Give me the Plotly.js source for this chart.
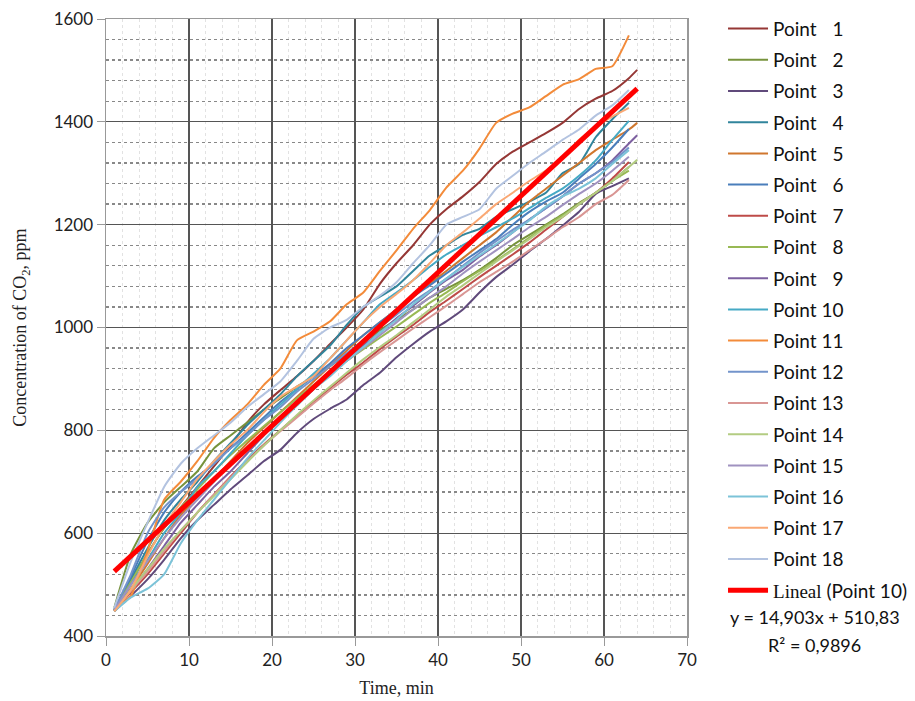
<!DOCTYPE html>
<html>
<head>
<meta charset="utf-8">
<script src="https://cdn.plot.ly/plotly-3.0.1.min.js"></script>
<style>html,body{margin:0;padding:0;background:#fff;}#chart{width:915px;height:701px;}</style>
</head>
<body>
<div id="chart"></div>
<script>
// Time axes (minutes)
const timeA = [1,3,5,7,9,11,13,15,17,19,21,23,25,27,29,31,33,35,37,39,41,43,45,47,49,51,53,55,57,59,61,63];
const timeB = [1,3,5,7,9,11,13,15,17,19,21,23,25,27,29,31,33,35,37,39,41,43,45,47,49,51,53,55,57,59,61,63,64];

// CO2 concentration (ppm) per measuring point
const point1  = [450,505,560,610,650,690,730,770,815,850,878,905,935,968,1000,1035,1085,1125,1160,1200,1230,1255,1283,1318,1342,1360,1378,1398,1425,1445,1460,1485,1501];
const point2  = [455,560,620,660,690,720,765,790,815,840,862,885,905,925,948,970,995,1015,1035,1058,1075,1092,1112,1135,1160,1180,1200,1220,1242,1262,1285,1312];
const point3  = [448,478,510,548,590,625,655,685,712,740,762,795,822,842,860,888,912,942,968,992,1012,1035,1068,1098,1122,1148,1172,1198,1225,1260,1275,1290];
const point4  = [450,510,570,625,665,700,740,775,810,840,870,905,935,965,1005,1040,1060,1080,1110,1140,1160,1180,1192,1215,1230,1245,1262,1300,1318,1370,1405,1437];
const point5  = [448,492,540,590,635,670,705,740,775,805,835,865,895,925,955,985,1010,1035,1060,1085,1110,1135,1160,1185,1215,1245,1270,1295,1320,1345,1365,1385,1398];
const point6  = [450,515,585,640,680,710,735,765,795,825,855,880,905,930,960,985,1010,1035,1060,1082,1105,1128,1150,1172,1200,1225,1245,1262,1290,1318,1350,1386];
const point7  = [450,485,520,560,600,640,675,710,742,772,800,828,855,882,908,932,958,982,1005,1030,1052,1075,1098,1120,1142,1165,1190,1215,1240,1262,1290,1322];
const point8  = [450,505,560,610,650,685,720,752,780,808,835,862,888,912,935,958,980,1002,1025,1048,1068,1090,1110,1130,1152,1175,1198,1218,1240,1262,1285,1305];
const point9  = [448,490,530,575,620,655,690,720,755,790,820,850,880,910,938,965,990,1018,1042,1068,1092,1112,1138,1160,1185,1210,1232,1255,1280,1300,1325,1358,1374];
const point10 = [452,500,548,600,640,690,720,755,790,820,850,880,910,940,975,1010,1045,1068,1092,1118,1142,1160,1178,1195,1212,1232,1252,1270,1295,1325,1365,1402];
const point11 = [452,478,565,665,700,740,785,820,850,888,920,975,992,1012,1045,1068,1110,1150,1192,1228,1272,1305,1348,1398,1416,1428,1450,1472,1483,1503,1508,1568];
const point12 = [452,520,600,650,680,705,735,765,790,820,845,875,900,925,950,975,1000,1025,1050,1072,1095,1120,1145,1168,1190,1210,1232,1255,1280,1300,1322,1350];
const point13 = [450,488,525,565,605,640,675,708,740,770,798,825,852,878,902,928,952,975,998,1020,1042,1065,1088,1108,1128,1150,1172,1195,1215,1240,1258,1287];
const point14 = [448,490,530,570,605,640,672,705,738,770,800,830,858,885,912,938,962,985,1010,1035,1060,1082,1105,1128,1150,1172,1195,1215,1240,1262,1285,1312,1326];
const point15 = [450,500,545,590,630,665,700,735,765,795,825,855,882,910,935,960,985,1010,1035,1058,1080,1105,1128,1150,1172,1195,1215,1238,1260,1280,1305,1332];
const point16 = [448,475,492,520,580,625,665,705,745,780,815,848,880,905,935,962,990,1015,1045,1070,1095,1118,1140,1162,1185,1208,1235,1255,1270,1290,1318,1345];
const point17 = [448,490,555,615,660,705,740,772,800,835,865,885,905,940,975,1010,1040,1065,1092,1125,1160,1185,1212,1240,1262,1285,1305,1330,1365,1390,1410,1427];
const point18 = [455,545,620,690,735,765,790,815,845,870,895,935,978,1000,1015,1040,1062,1088,1125,1160,1200,1215,1230,1270,1295,1320,1342,1365,1385,1412,1432,1462];

const seriesNames = ['Point \u20071','Point \u20072','Point \u20073','Point \u20074','Point \u20075','Point \u20076','Point \u20077','Point \u20078','Point \u20079','Point 10','Point 11','Point 12','Point 13','Point 14','Point 15','Point 16','Point 17','Point 18'];
const seriesValues = [point1,point2,point3,point4,point5,point6,point7,point8,point9,point10,point11,point12,point13,point14,point15,point16,point17,point18];
const seriesColors = ['#953735','#77933C','#604A7B','#31859C','#D0772E','#4A7EBB','#BE4B48','#98B954','#7D60A0','#46AAC5','#F38B3A','#7394CB','#D99694','#B3CC82','#A092C0','#7CC3D8','#FAA874','#B3C3E0'];

// Linear trend for Point 10 (as printed on the chart)
const trendSlope = 14.903;
const trendIntercept = 510.83;
const trendRange = [1, 64];

const xTicks = [0,10,20,30,40,50,60,70];
const yTicks = [400,600,800,1000,1200,1400,1600];

const traces = seriesValues.map((vals, i) => ({
  type: 'scatter', mode: 'lines',
  x: vals.length === timeB.length ? timeB : timeA,
  y: vals,
  name: seriesNames[i],
  legendgroup: 'g' + i,
  line: {color: seriesColors[i], width: 2, shape: 'spline', smoothing: 0.5},
  hoverinfo: 'skip'
}));
traces.push({
  type: 'scatter', mode: 'lines',
  x: trendRange,
  y: trendRange.map(t => trendSlope * t + trendIntercept),
  name: '<span style="font-family:Liberation Serif">Lineal</span> (Point 10)',
  legendgroup: 'trend',
  line: {color: '#FF0000', width: 5},
  hoverinfo: 'skip'
});

const tickFont = {family: 'Lato, "Open Sans", sans-serif', size: 17, color: '#222'};
const layout = {
  width: 915, height: 701,
  margin: {l: 106, r: 228, t: 19, b: 65, autoexpand: false},
  paper_bgcolor: '#fff', plot_bgcolor: '#fff',
  showlegend: true,
  legend: {
    x: 1.062, xanchor: 'left', y: 1.015, yanchor: 'top',
    font: {family: 'Lato, "Open Sans", sans-serif', size: 19, color: '#111'},
    tracegroupgap: 3.5, itemwidth: 40, bgcolor: 'rgba(0,0,0,0)', maxheight: 700
  },
  xaxis: {
    range: [0, 70], tickvals: xTicks, ticks: 'outside', ticklen: 8, tickcolor: '#999',
    showline: true, linecolor: '#999', linewidth: 1.5, mirror: true,
    showgrid: true, gridcolor: '#555', gridwidth: 1.3,
    minor: {dtick: 2, showgrid: true, gridcolor: '#e2e2e2', griddash: 'dot', gridwidth: 1},
    zeroline: false, tickfont: tickFont,
    title: {text: 'Time, min', font: {family: 'Liberation Serif, serif', size: 18, color: '#222'}, standoff: 12}
  },
  yaxis: {
    range: [400, 1600], tickvals: yTicks, ticks: 'outside', ticklen: 8, tickcolor: '#999',
    showline: true, linecolor: '#999', linewidth: 1.5, mirror: true,
    showgrid: true, gridcolor: '#555', gridwidth: 1.3,
    minor: {dtick: 40, showgrid: true, gridcolor: '#888', griddash: 'dot', gridwidth: 1.3},
    zeroline: false, tickfont: tickFont, ticksuffix: '\u2002',
    title: {text: 'Concentration of CO<sub>2</sub>, ppm', font: {family: 'Liberation Serif, serif', size: 18, color: '#222'}, standoff: 22}
  },
  annotations: [
    {xref: 'paper', yref: 'paper', x: 1.22, y: 0.031, xanchor: 'center', yanchor: 'middle', text: 'y = 14,903x + 510,83', showarrow: false,
     font: {family: 'Lato, "Open Sans", sans-serif', size: 18, color: '#111'}},
    {xref: 'paper', yref: 'paper', x: 1.22, y: -0.015, xanchor: 'center', yanchor: 'middle', text: 'R² = 0,9896', showarrow: false,
     font: {family: 'Lato, "Open Sans", sans-serif', size: 18, color: '#111'}}
  ]
};

Plotly.newPlot('chart', traces, layout, {staticPlot: true, displayModeBar: false});
</script>
</body>
</html>
